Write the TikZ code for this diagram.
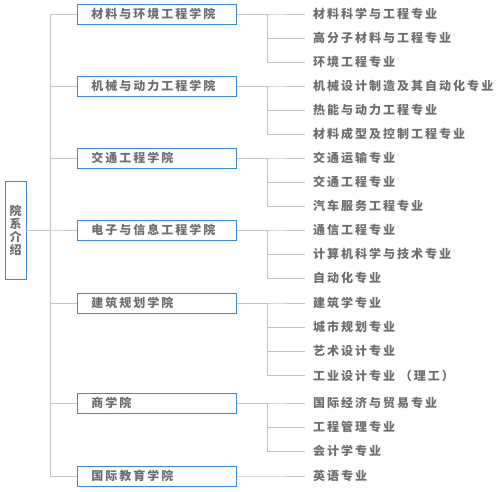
\documentclass[tikz,border=0pt]{standalone}
\usepackage{fontspec}
\usepackage{tikz}
\usetikzlibrary{positioning}
\newfontfamily\cjk{Noto Sans CJK SC}[LetterSpace=16.7]
\definecolor{deptblue}{RGB}{58,138,214}
\definecolor{deptgray}{RGB}{110,110,110}
\definecolor{linegray}{RGB}{196,196,196}

\begin{document}
\begin{tikzpicture}[
  x=1pt, y=-1pt,
  every node/.style={font=\cjk\bfseries\fontsize{12}{13}\selectfont, text=deptgray},
  rootbox/.style={draw=deptblue, line width=0.8pt, minimum width=21pt, minimum height=98pt, inner sep=0pt, align=center},
  college/.style={anchor=west, draw=deptblue, line width=0.8pt, minimum width=159pt, minimum height=20pt, inner xsep=14pt, text width=131pt, align=left},
  major/.style={anchor=west, inner xsep=8pt, inner ysep=0pt},
  link/.style={draw=linegray, line width=0.8pt},
]
  \useasboundingbox (0,0) rectangle (503,492);
  \node[rootbox] (root) at (15.5,230) {院\\系\\介\\绍};
  \foreach \y/\title/\majors [count=\k] in {
      14/材料与环境工程学院/{材料科学与工程专业,高分子材料与工程专业,环境工程专业},
      86/机械与动力工程学院/{机械设计制造及其自动化专业,热能与动力工程专业,材料成型及控制工程专业},
      158/交通工程学院/{交通运输专业,交通工程专业,汽车服务工程专业},
      230/电子与信息工程学院/{通信工程专业,计算机科学与技术专业,自动化专业},
      303/建筑规划学院/{建筑学专业,城市规划专业,艺术设计专业,工业设计专业 （理工）},
      403/商学院/{国际经济与贸易专业,工程管理专业,会计学专业},
      476/国际教育学院/{英语专业}} {
    \node[college] (c\k) at (77,\y) {\title};
    \draw[link] (root.east) -- ++(24,0) |- (c\k.west);
    \foreach \m [count=\i] in \majors {
      \node[major] (c\k-\i) at (305,{\y+24.2*(\i-1)}) {\m};
      \draw[link] (c\k.east) -- ++(31,0) |- (c\k-\i.west);
    }
  }
\end{tikzpicture}
\end{document}
